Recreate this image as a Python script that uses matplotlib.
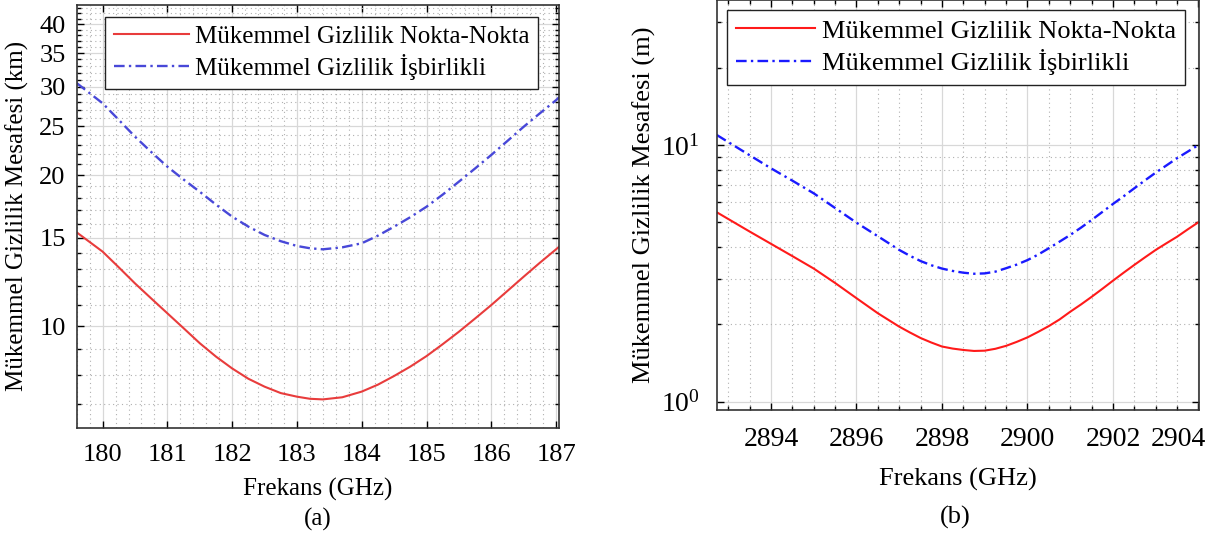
import numpy as np
import matplotlib
matplotlib.use('Agg')
import matplotlib.pyplot as plt
import matplotlib.transforms as mtransforms
from matplotlib.ticker import FixedLocator, FixedFormatter, MultipleLocator, LogLocator, LogFormatterMathtext, NullFormatter

plt.rcParams['font.family'] = ['Liberation Serif', 'DejaVu Serif']
plt.rcParams['mathtext.fontset'] = 'custom'
plt.rcParams['mathtext.rm'] = 'Liberation Serif'
plt.rcParams['mathtext.it'] = 'Liberation Serif:italic'

# (a) 183 GHz band, distance in km
freq_a = [179.6, 180, 180.25, 180.5, 180.75, 181, 181.25, 181.5, 181.75, 182,
          182.25, 182.5, 182.75, 183, 183.2, 183.4, 183.7, 184, 184.25, 184.5,
          184.75, 185, 185.25, 185.5, 185.75, 186, 186.25, 186.5, 186.75, 187, 187.05]
p2p_a = [15.37, 14.07, 13.09, 12.16, 11.35, 10.6, 9.9, 9.24, 8.69, 8.23,
         7.85, 7.57, 7.35, 7.23, 7.16, 7.14, 7.21, 7.40, 7.64, 7.95,
         8.30, 8.71, 9.20, 9.74, 10.35, 11.01, 11.75, 12.54, 13.37, 14.22, 14.4]
coop_a = [30.5, 27.8, 25.76, 23.85, 22.23, 20.78, 19.59, 18.52, 17.46, 16.52,
          15.78, 15.19, 14.76, 14.44, 14.29, 14.22, 14.35, 14.62, 15.14, 15.78,
          16.48, 17.29, 18.28, 19.4, 20.61, 21.93, 23.39, 24.96, 26.55, 28.2, 28.6]
yticks_a = [10, 15, 20, 25, 30, 35, 40]
xticks_a = [180, 181, 182, 183, 184, 185, 186, 187]

# (b) 2.9 THz band, distance in m
freq_b = [2892.73, 2893.5, 2894, 2894.5, 2895, 2895.5, 2896, 2896.5, 2897, 2897.25,
          2897.5, 2897.75, 2898, 2898.25, 2898.5, 2898.75, 2899, 2899.25, 2899.5, 2899.75,
          2900, 2900.25, 2900.5, 2900.75, 2901, 2901.25, 2901.5, 2901.75, 2902, 2902.25,
          2902.5, 2902.75, 2903, 2903.25, 2903.5, 2903.75, 2904]
p2p_b = [5.47, 4.60, 4.12, 3.69, 3.30, 2.90, 2.53, 2.21, 1.96, 1.86,
         1.77, 1.70, 1.64, 1.61, 1.59, 1.576, 1.58, 1.607, 1.65, 1.71,
         1.78, 1.87, 1.97, 2.09, 2.24, 2.39, 2.56, 2.75, 2.96, 3.18,
         3.41, 3.65, 3.90, 4.14, 4.39, 4.69, 5.0]
coop_b = [10.94, 9.12, 8.11, 7.26, 6.48, 5.68, 4.98, 4.41, 3.90, 3.70,
          3.53, 3.40, 3.30, 3.23, 3.18, 3.15, 3.16, 3.21, 3.31, 3.42,
          3.56, 3.74, 3.96, 4.20, 4.46, 4.76, 5.1, 5.48, 5.89, 6.31,
          6.78, 7.28, 7.80, 8.32, 8.88, 9.42, 10.0]
xticks_b = [2894, 2896, 2898, 2900, 2902, 2904]

lab1 = 'Mükemmel Gizlilik Nokta-Nokta'
lab2 = 'Mükemmel Gizlilik İşbirlikli'

W, H = 1210, 536
fig = plt.figure(figsize=(W/100, H/100), dpi=100)

def style(ax):
    ax.grid(True, which='major', color='#d8d8d8', lw=0.9, ls='-')
    ax.grid(True, which='minor', color='#b0b0b0', lw=0.8, ls=(0, (1, 3)))
    ax.set_axisbelow(True)
    ax.tick_params(which='both', direction='in', top=True, right=True, width=1.0)
    ax.tick_params(which='major', length=5)
    ax.tick_params(which='minor', length=3)
    for s in ax.spines.values():
        s.set_linewidth(1.2)
        s.set_color('#333333')

# ---- panel (a)
ax1 = fig.add_axes([76.7/W, 1-427.7/H, 482.6/W, 422.7/H])
ax1.semilogy(freq_a, p2p_a, color='#e83c3c', lw=1.5, label=lab1)
ax1.semilogy(freq_a, coop_a, color='#4848d8', lw=1.7, ls=(0, (4.5, 1.8, 1.0, 1.8)), label=lab2)
ax1.set_xlim(179.6, 187.05)
ax1.set_ylim(6.27, 43.65)
style(ax1)
ax1.xaxis.set_major_locator(FixedLocator(xticks_a))
ax1.xaxis.set_minor_locator(MultipleLocator(0.2))
ax1.tick_params(axis='x', which='minor', length=0)
ax1.yaxis.set_major_locator(FixedLocator(yticks_a))
ax1.yaxis.set_major_formatter(FixedFormatter([str(v) for v in yticks_a]))
ax1.yaxis.set_minor_locator(FixedLocator([v for v in range(7, 44) if v not in yticks_a]))
ax1.yaxis.set_minor_formatter(NullFormatter())
ax1.tick_params(axis='x', which='major', labelsize=19, pad=12)
ax1.tick_params(axis='y', which='major', labelsize=19, pad=8)
ax1.set_xlabel('Frekans (GHz)', fontsize=18, labelpad=8)
ax1.set_ylabel('Mükemmel Gizlilik Mesafesi (km)', fontsize=18, labelpad=7)
leg1 = ax1.legend(loc='upper left', bbox_to_anchor=(105/W, 1-16.7/H), bbox_transform=fig.transFigure,
                  fontsize=18, handlelength=3.0, handletextpad=0.25, labelspacing=0.25,
                  borderpad=0.35, borderaxespad=0, fancybox=False, framealpha=1, edgecolor='#222222')
leg1.get_frame().set_linewidth(1.0)
fig.text(318/W, 1-519/H, '(a)', ha='center', va='center', fontsize=18)

# ---- panel (b)
ax2 = fig.add_axes([716.7/W, 1-410/H, 482.6/W, 410/H])
ax2.semilogy(freq_b, p2p_b, color='#ff1a1a', lw=1.5, label=lab1)
ax2.semilogy(freq_b, coop_b, color='#1a1aff', lw=1.7, ls=(0, (4.5, 1.8, 1.0, 1.8)), label=lab2)
ax2.set_xlim(2892.73, 2904.02)
ax2.set_ylim(0.928, 36.7)
style(ax2)
ax2.xaxis.set_major_locator(FixedLocator(xticks_b))
ax2.xaxis.set_minor_locator(MultipleLocator(0.5))
ax2.yaxis.set_major_locator(LogLocator(base=10, numticks=5))
ax2.yaxis.set_major_formatter(LogFormatterMathtext())
ax2.yaxis.set_minor_locator(LogLocator(base=10, subs=np.arange(2, 10), numticks=20))
ax2.yaxis.set_minor_formatter(NullFormatter())
ax2.tick_params(axis='both', which='major', labelsize=20, pad=12)
ax2.set_xlabel('Frekans (GHz)', fontsize=19, labelpad=12)
ax2.set_ylabel('Mükemmel Gizlilik Mesafesi (m)', fontsize=19, labelpad=4)
leg2 = ax2.legend(loc='upper left', bbox_to_anchor=(726.7/W, 1-10/H), bbox_transform=fig.transFigure,
                  fontsize=19, handlelength=3.0, handletextpad=0.25, labelspacing=0.25,
                  borderpad=0.35, borderaxespad=0, fancybox=False, framealpha=1, edgecolor='#222222')
leg2.get_frame().set_linewidth(1.0)
fig.text(955/W, 1-517/H, '(b)', ha='center', va='center', fontsize=19)

# keep the last tick label inside the figure, as in the original
fig.canvas.draw()
last = ax2.get_xticklabels()[-1]
last.set_transform(last.get_transform() + mtransforms.ScaledTranslation(-0.2, 0, fig.dpi_scale_trans))

fig.savefig('out.png', dpi=100)
